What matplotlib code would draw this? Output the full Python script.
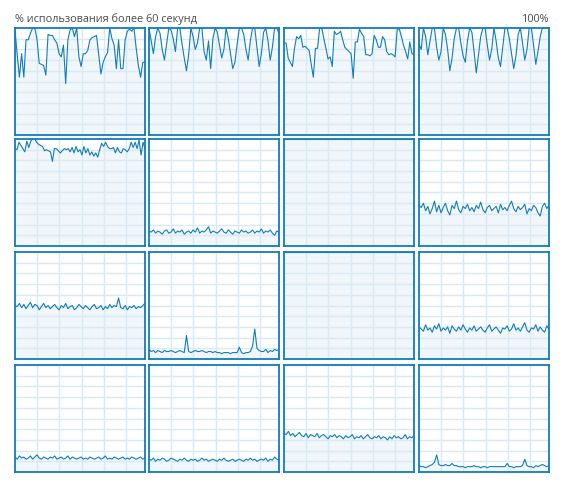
import numpy as np
import matplotlib
matplotlib.use("Agg")
import matplotlib.pyplot as plt

title_left = "% использования более 60 секунд"
title_right = "100%"

cpu = [
    # row 1
    [98, 75, 54, 76, 54, 89, 89, 95, 100, 100, 89, 67, 66, 65, 56, 94, 93, 93, 89, 86,
     76, 73, 84, 48, 89, 98, 100, 92, 100, 73, 64, 76, 76, 79, 89, 91, 92, 93, 75, 57,
     68, 73, 77, 100, 90, 84, 62, 89, 62, 62, 89, 97, 99, 97, 100, 81, 65, 54, 68, 68],
    [100, 88, 76, 92, 100, 95, 80, 70, 85, 100, 98, 90, 78, 100, 100, 85, 72, 60, 75, 100,
     92, 80, 86, 100, 100, 78, 70, 88, 62, 90, 100, 96, 84, 72, 80, 100, 90, 76, 62, 68,
     85, 100, 100, 94, 80, 70, 88, 100, 100, 82, 64, 76, 96, 100, 88, 70, 82, 100, 100, 95],
    [86, 86, 72, 68, 64, 81, 92, 90, 93, 82, 83, 81, 79, 66, 54, 81, 81, 100, 100, 90,
     81, 71, 73, 64, 97, 94, 95, 97, 89, 82, 80, 78, 76, 53, 87, 87, 99, 95, 92, 75,
     75, 74, 76, 93, 89, 82, 82, 92, 89, 78, 75, 76, 75, 73, 99, 99, 92, 84, 78, 71,
     87, 76, 75],
    [85, 80, 100, 92, 75, 88, 100, 100, 82, 70, 78, 100, 94, 80, 60, 72, 90, 100, 100, 86,
     74, 68, 88, 100, 96, 78, 58, 75, 92, 100, 100, 84, 70, 80, 100, 88, 72, 64, 82, 100,
     100, 90, 76, 62, 74, 94, 100, 86, 70, 80, 100, 100, 84, 66, 78, 92, 100, 100, 100, 100],
    # row 2
    [91, 90, 97, 94, 91, 88, 98, 92, 98, 100, 100, 97, 95, 94, 93, 89, 90, 89, 88, 79,
     91, 91, 89, 87, 89, 91, 90, 91, 88, 92, 87, 93, 88, 90, 85, 93, 87, 91, 85, 88,
     84, 87, 83, 90, 96, 93, 97, 93, 91, 91, 92, 87, 92, 88, 87, 91, 90, 88, 91, 97,
     92, 97, 91, 99, 85, 97, 91],
    [14, 13, 15, 12, 14, 13, 11, 14, 15, 12, 13, 16, 12, 14, 13, 15, 11, 13, 14, 12,
     15, 13, 17, 12, 14, 13, 15, 18, 12, 14, 13, 12, 14, 16, 13, 12, 15, 13, 11, 14,
     13, 12, 15, 13, 14, 12, 13, 15, 12, 14, 13, 16, 12, 14, 13, 15, 12, 10, 14, 13],
    [100] * 60,
    [38, 36, 40, 33, 37, 30, 35, 42, 32, 38, 31, 36, 40, 33, 29, 38, 35, 42, 34, 31,
     37, 35, 39, 33, 36, 32, 38, 35, 41, 34, 31, 36, 38, 33, 35, 37, 31, 39, 34, 36,
     33, 38, 42, 35, 32, 37, 34, 36, 39, 30, 35, 33, 38, 36, 31, 28, 37, 40, 35, 38],
    # row 3
    [50, 49, 52, 48, 51, 47, 50, 53, 48, 51, 50, 46, 49, 52, 48, 50, 47, 49, 51, 48,
     46, 50, 48, 52, 47, 49, 50, 46, 48, 51, 49, 47, 50, 48, 46, 49, 51, 47, 48, 50,
     46, 49, 47, 51, 48, 50, 49, 57, 48, 47, 50, 46, 49, 48, 50, 47, 49, 48, 50, 52],
    [9, 7, 8, 6, 8, 7, 6, 8, 7, 7, 8, 7, 6, 7, 8, 7, 6, 22, 7, 6,
     7, 8, 7, 7, 8, 7, 6, 7, 7, 6, 7, 6, 6, 5, 6, 6, 6, 5, 6, 6,
     6, 11, 6, 5, 6, 6, 7, 12, 28, 10, 8, 7, 7, 9, 6, 8, 7, 9, 8, 9],
    [100] * 60,
    [30, 28, 26, 32, 27, 29, 25, 31, 28, 33, 26, 29, 27, 30, 24, 31, 28, 26, 30, 27,
     32, 28, 25, 29, 27, 31, 26, 28, 30, 27, 25, 29, 32, 26, 28, 30, 27, 24, 29, 28,
     31, 26, 28, 33, 27, 29, 26, 30, 34, 27, 25, 29, 28, 32, 26, 30, 27, 25, 31, 28],
    # row 4
    [14, 12, 15, 13, 14, 12, 13, 15, 12, 14, 16, 13, 12, 14, 13, 12, 14, 13, 15, 12,
     13, 14, 12, 13, 15, 12, 14, 13, 12, 13, 14, 12, 13, 12, 14, 13, 12, 13, 14, 12,
     13, 15, 12, 13, 12, 14, 13, 12, 13, 14, 12, 13, 12, 14, 13, 12, 13, 14, 12, 13],
    [12, 11, 13, 10, 12, 11, 13, 12, 10, 11, 13, 12, 11, 10, 12, 11, 13, 11, 10, 12,
     11, 12, 10, 11, 13, 11, 12, 10, 11, 12, 11, 10, 12, 11, 13, 11, 10, 11, 12, 10,
     11, 12, 11, 10, 12, 11, 13, 11, 12, 10, 11, 12, 11, 13, 10, 12, 11, 14, 12, 11],
    [36, 35, 38, 34, 36, 33, 35, 37, 34, 33, 36, 32, 35, 34, 33, 36, 32, 34, 35, 33,
     31, 34, 33, 35, 32, 34, 33, 31, 34, 32, 33, 35, 31, 33, 32, 34, 31, 33, 35, 32,
     31, 33, 32, 34, 31, 33, 32, 30, 33, 31, 34, 32, 33, 31, 32, 35, 31, 33, 32, 34],
    [6, 5, 5, 4, 5, 6, 7, 9, 16, 7, 6, 6, 7, 6, 6, 8, 6, 6, 5, 5,
     5, 4, 5, 5, 5, 6, 5, 5, 4, 5, 5, 4, 5, 5, 5, 5, 5, 5, 5, 5,
     8, 5, 5, 4, 5, 5, 5, 6, 12, 6, 5, 5, 4, 6, 5, 6, 7, 6, 5, 6],
]

W, H = 566, 483
LINE = "#117dbb"
FILL = "#f1f6fa"
GRID = "#d9eaf4"

fig = plt.figure(figsize=(W / 100, H / 100), dpi=100)
fig.patch.set_facecolor("white")

lefts = [15, 149, 284, 419]
tops = [28, 139, 252, 365]
pw, ph = 130, 107
XMAX = 58.6

for i, vals in enumerate(cpu):
    r, c = divmod(i, 4)
    ax = fig.add_axes([lefts[c] / W, 1 - (tops[r] + ph) / H, pw / W, ph / H])
    ax.set_facecolor("white")
    t = np.linspace(0, XMAX, len(vals))
    ax.fill_between(t, 0, vals, color=FILL, lw=0, zorder=1)
    for gx in range(10, 60, 10):
        ax.axvline(gx, color=GRID, lw=1.0, zorder=2)
    for gy in range(10, 100, 10):
        ax.axhline(gy, color=GRID, lw=1.0, zorder=2)
    ax.plot(t, vals, color=LINE, lw=0.8, zorder=3)
    ax.set_xlim(0, XMAX)
    ax.set_ylim(0, 100)
    ax.set_xticks([])
    ax.set_yticks([])
    for s in ax.spines.values():
        s.set_color(LINE)
        s.set_linewidth(1.3)
        s.set_zorder(4)

fig.text(15 / W, 1 - 19 / H, title_left, fontsize=7.8, color="#4a4a4a",
         ha="left", va="center", family="Open Sans")
fig.text(549 / W, 1 - 19 / H, title_right, fontsize=7.8, color="#4a4a4a",
         ha="right", va="center", family="Open Sans")

fig.savefig("out.png", dpi=100, facecolor="white")
